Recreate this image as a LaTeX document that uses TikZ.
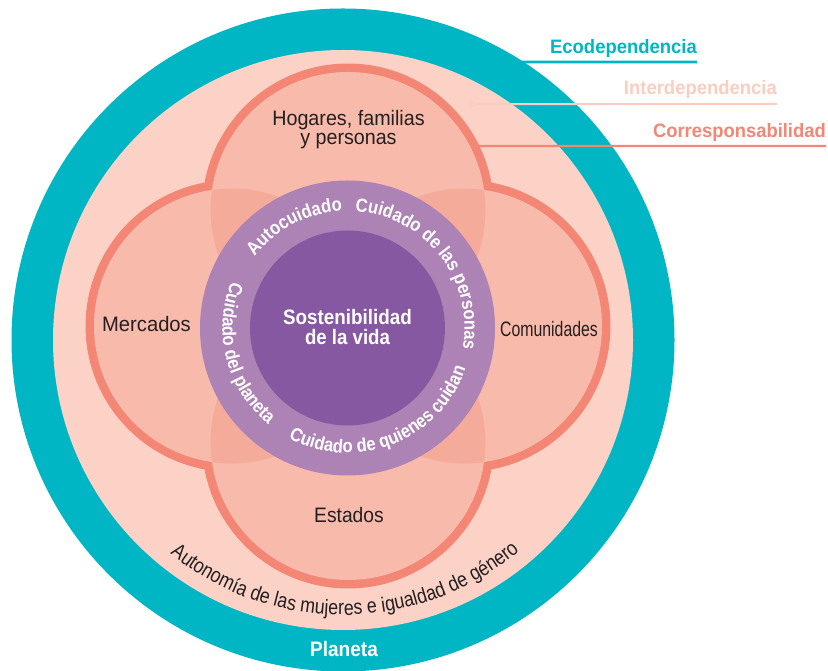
\documentclass[tikz,border=0pt]{standalone}
\usepackage{fontspec}
\setmainfont{Liberation Sans}
\newfontfamily\ringfamily[FakeStretch=0.88]{Liberation Sans}
\newfontfamily\arcfamily[FakeStretch=0.85]{Liberation Sans}
\usetikzlibrary{decorations.text}
\definecolor{ecoteal}{HTML}{00B6C4}
\definecolor{pinkbg}{HTML}{FBD2C5}
\definecolor{petalfill}{HTML}{F8BAAA}
\definecolor{petalline}{HTML}{F38674}
\definecolor{lensfill}{HTML}{F4AB99}
\definecolor{ringpurple}{HTML}{AD82B5}
\definecolor{corepurple}{HTML}{8658A2}
\definecolor{intercol}{HTML}{F9CDBF}
\definecolor{inkdark}{HTML}{231F20}
\newcommand\hsc[2]{\scalebox{#1}[1]{#2}}
\newcommand\ringtxt{\ringfamily\bfseries\fontsize{19}{21}\selectfont}
\newcommand\arctxt{\arcfamily\fontsize{21}{23}\selectfont}
\newcommand\labtxt{\fontsize{21}{20}\selectfont}
\newcommand\boldlab{\bfseries\fontsize{21}{21}\selectfont}
\newcommand\legtxt{\bfseries\fontsize{19.5}{21}\selectfont}
\begin{document}
\begin{tikzpicture}[x=1bp,y=1bp,
  plainlab/.style={inner sep=0, text=inkdark, font=\labtxt},
  whitelab/.style={inner sep=0, text=white, font=\boldlab},
  leglab/.style={inner sep=0, font=\legtxt, anchor=base east},
  petalstroke/.style={draw=petalline, line width=17},
  outwardtext/.style={decorate, decoration={text along path, text={|\ringtxt|#1}, text align=center, text color=white}},
  inwardtext/.style={decorate, decoration={text along path, text={|\ringtxt|#1}, text align=center, text color=white}},
  bottomtext/.style={decorate, decoration={text along path, text={|\arctxt|#1}, text align=center, text color=inkdark}}]
\useasboundingbox (0,0) rectangle (828,671);
\coordinate (O) at (343,331);
\coordinate (R) at (347.5,343);
\coordinate (PT) at (348,461.6);
\coordinate (PB) at (348,228.4);
\coordinate (PL) at (231.4,345);
\coordinate (PR) at (464.6,345);
% outer rings
\fill[ecoteal] (O) circle[radius=331.5];
\fill[pinkbg] (O) circle[radius=290];
% petals
\foreach \c in {PT,PB,PL,PR} \path[petalstroke] (\c) circle[radius=137.4];
\foreach \c in {PT,PB,PL,PR} \fill[petalfill] (\c) circle[radius=137.4];
\begin{scope}
  \clip (PT) circle[radius=137.4];
  \fill[lensfill] (PL) circle[radius=137.4];
  \fill[lensfill] (PR) circle[radius=137.4];
\end{scope}
\begin{scope}
  \clip (PB) circle[radius=137.4];
  \fill[lensfill] (PL) circle[radius=137.4];
  \fill[lensfill] (PR) circle[radius=137.4];
\end{scope}
% care ring and core
\fill[ringpurple] (R) circle[radius=147.5];
\fill[corepurple] (R) circle[radius=97.5];
% ring texts
\path[outwardtext={Autocuidado}] ([shift={(177.5:117)}]R) arc[start angle=177.5, end angle=57.5, radius=117];
\path[outwardtext={Cuidado de las personas}] ([shift={(118:117)}]R) arc[start angle=118, end angle=-42, radius=117];
\path[inwardtext={Cuidado del planeta}] ([shift={(124.5:125)}]R) arc[start angle=124.5, end angle=264.5, radius=125];
\path[inwardtext={Cuidado de quienes cuidan}] ([shift={(221.5:125)}]R) arc[start angle=221.5, end angle=361.5, radius=125];
% bottom arc text
\path[bottomtext={Autonomía de las mujeres e igualdad de género}] ([shift={(220.5:275)}]O) arc[start angle=220.5, end angle=320.5, radius=275];
% labels
\node[plainlab, anchor=base, align=center] (hoga) at (348.5,526) {\hsc{0.943}{Hogares, familias}\\\hsc{0.94}{y personas}};
\node[plainlab, anchor=base] (merc) at (146.5,339) {\hsc{0.965}{Mercados}};
\node[plainlab, anchor=base] (comu) at (549,334) {\hsc{0.757}{Comunidades}};
\node[plainlab, anchor=base] (esta) at (349,148) {\hsc{0.92}{Estados}};
\node[whitelab, anchor=base, align=center] (sost) at (347.5,326) {\hsc{0.90}{Sostenibilidad}\\\hsc{0.89}{de la vida}};
\node[whitelab, anchor=base] (plan) at (344,14) {\hsc{0.91}{Planeta}};
% legend
\node[leglab, text=ecoteal] (eco) at (697,617.7) {\hsc{0.95}{Ecodependencia}};
\node[leglab, text=intercol] (inter) at (777,576) {\hsc{0.95}{Interdependencia}};
\node[leglab, text=petalline] (corr) at (826,533.7) {\hsc{0.947}{Corresponsabilidad}};
\coordinate (ecoS) at ([shift={(63.4:311)}]O);
\coordinate (interS) at ([shift={(61.3:269)}]O);
\coordinate (corrS) at ([shift={(26.6:141.6)}]PT);
\draw[ecoteal, line width=2.7] (ecoS) -- ([yshift=-8.7]eco.base east);
\draw[intercol, line width=2] (interS) -- ([yshift=-9]inter.base east);
\fill[intercol] (interS) circle[radius=3];
\draw[petalline, line width=2.3] (corrS) -- ([yshift=-8.7]corr.base east);
\end{tikzpicture}
\end{document}
